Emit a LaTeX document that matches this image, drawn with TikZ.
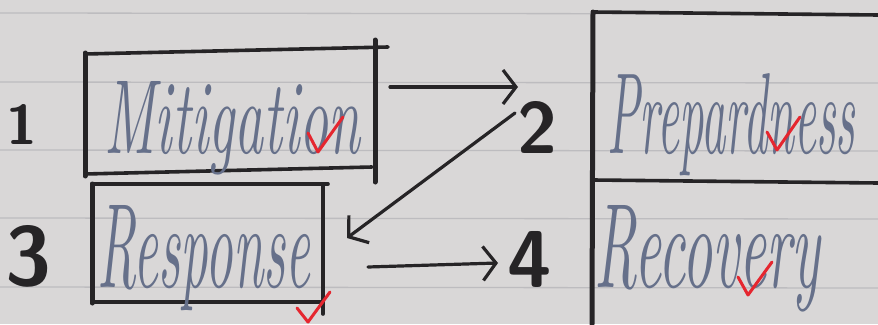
\documentclass[tikz,border=0pt]{standalone}
\usepackage{graphicx}
\usetikzlibrary{arrows.meta}
\definecolor{paper}{HTML}{D9D7D7}
\definecolor{ruling}{HTML}{BDBCBF}
\definecolor{ink}{HTML}{262426}
\definecolor{pencil}{HTML}{66708A}
\definecolor{tick}{HTML}{E5262F}
\tikzset{
  rule/.style={ruling, line width=1.3pt},
  boxline/.style={ink, line width=3.6pt, line cap=round},
  thickline/.style={ink, line width=5pt, line cap=round},
  arrowline/.style={ink, line width=3.2pt, line cap=round,
     -{Straight Barb[length=13pt,width=34pt,line width=3.2pt]}},
  word/.style={pencil, inner sep=0pt, anchor=base west},
  num/.style={ink, inner sep=0pt, font=\sffamily\bfseries},
  checkmark/.style={tick, line width=3pt, line cap=round, line join=round}
}
\begin{document}
\begin{tikzpicture}[x=1pt,y=-1pt]
\fill[paper] (0,0) rectangle (878,324);
\useasboundingbox (0,0) rectangle (878,324);
\foreach \yy in {13,82,150,218,287} \draw[rule] (0,\yy) -- (878,\yy+1);

% Mitigation box
\draw[boxline] (85,54) -- (388,47);
\draw[boxline] (85,174) -- (372,167);
\draw[thickline] (85,53) -- (85,176);
\draw[thickline] (375,40) -- (375,182);
% Response box
\draw[boxline] (92,184) -- (328,184);
\draw[boxline] (92,302) -- (323,302);
\draw[thickline] (92,184) -- (92,303);
\draw[boxline] (323,184) -- (323,314);
% Right box
\draw[thickline] (593,12) -- (592,324);
\draw[boxline] (593,12) -- (878,15);
\draw[boxline] (593,180) -- (878,183);

% words
\node[word] (mit) at (104,153) {\resizebox{256pt}{72pt}{\itshape Mitigation}};
\node[word] (res) at (97,287) {\resizebox{213pt}{82pt}{\itshape Response}};
\node[word] (pre) at (607,153) {\resizebox{248pt}{80pt}{\itshape Prepardness}};
\node[word] (rec) at (594,287) {\resizebox{226pt}{82pt}{\itshape Recovery}};

% numbers
\node[num] (n1) at (22,124) {\resizebox{!}{40pt}{1}};
\node[num] (n3) at (29,256) {\resizebox{!}{60pt}{3}};
\node[num] (n2) at (537,127) {\resizebox{!}{52pt}{2}};
\node[num] (n4) at (530,259) {\resizebox{!}{56pt}{4}};

% arrows
\coordinate (a1s) at (390,87);
\coordinate (a1e) at (518,87);
\coordinate (a2s) at (515,113);
\coordinate (a2e) at (347,238);
\coordinate (a3s) at (368,267);
\coordinate (a3e) at (498,263);
\draw[arrowline] (a1s) -- (a1e);
\draw[arrowline] (a2s) -- (a2e);
\draw[arrowline] (a3s) -- (a3e);

% red ticks
\draw[checkmark] (308,133) -- (318,152) -- (343,117);
\draw[checkmark] (297,308) -- (308,322) -- (330,292);
\draw[checkmark] (767,132) -- (777,150) -- (800,117);
\draw[checkmark] (738,277) -- (748,295) -- (772,262);
\end{tikzpicture}
\end{document}
